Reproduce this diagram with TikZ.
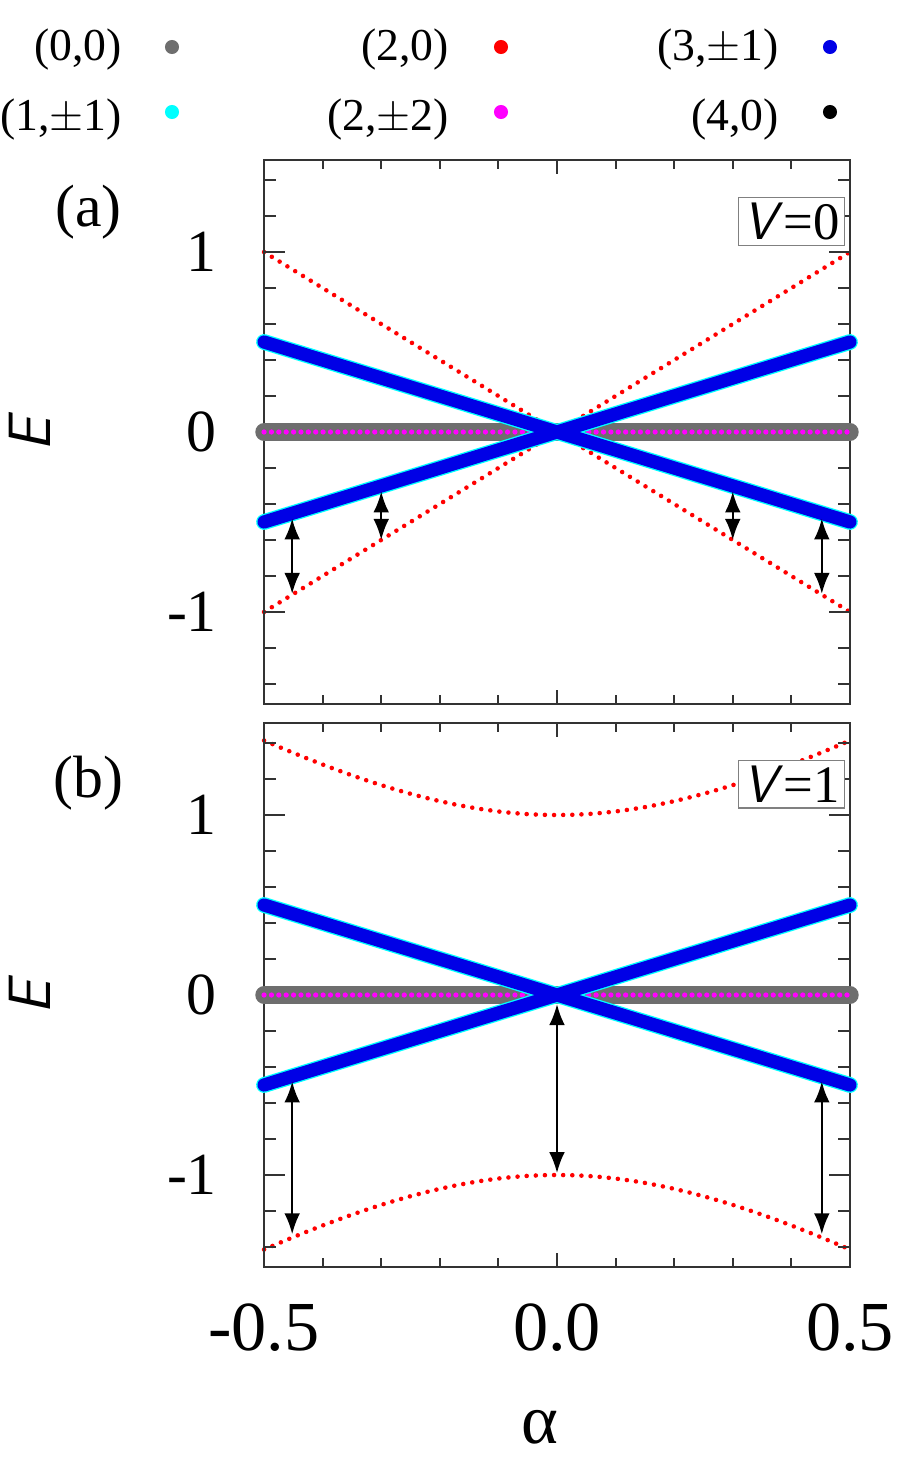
\documentclass[tikz,border=0pt]{standalone}
\usepackage{fontspec}
\setmainfont{Liberation Serif}
\usepackage{tikz}
\usetikzlibrary{arrows.meta}

\definecolor{pcyan}{RGB}{0,255,255}
\definecolor{pmag}{RGB}{255,0,255}
\definecolor{pred}{RGB}{255,0,0}
\definecolor{pblue}{RGB}{0,0,230}
\definecolor{pgray}{RGB}{110,110,110}

\tikzset{
  lbl/.style={font=\fontsize{26}{28}\selectfont},
  ticklbl/.style={font=\fontsize{34}{36}\selectfont},
  boxlbl/.style={font=\fontsize{30}{32}\selectfont},
  frame/.style={line width=1.2pt, black!80},
  redband/.style={pred, line width=2.6pt, dash pattern=on 0pt off 5.2pt, line cap=round},
  grayband/.style={pgray, line width=10pt, line cap=round},
  magband/.style={pmag, line width=3pt, dash pattern=on 0pt off 4.2pt, line cap=round},
  cyanband/.style={pcyan, line width=9pt, line cap=round},
  blueband/.style={pblue, line width=7.5pt, line cap=round},
  gap/.style={{Latex[length=12pt,width=9pt]}-{Latex[length=12pt,width=9pt]}, line width=1.4pt},
  dot/.style={circle, fill=#1, inner sep=0pt, minimum size=8pt}
}

\newcommand{\panelaxes}{%
  \draw[frame] (-0.5,-1.513) rectangle (0.5,1.513);
  \foreach \t in {-0.4,-0.3,-0.2,-0.1,0.1,0.2,0.3,0.4}
    {\draw[frame] (\t,-1.513) -- ++(0,0.05) (\t,1.513) -- ++(0,-0.05);}
  \foreach \t in {-0.5,0,0.5}
    {\draw[frame] (\t,-1.513) -- ++(0,0.08) (\t,1.513) -- ++(0,-0.08);}
  \foreach \e in {-1.4,-1.2,-0.8,-0.6,-0.4,-0.2,0.2,0.4,0.6,0.8,1.2,1.4}
    {\draw[frame] (-0.5,\e) -- ++(0.02,0) (0.5,\e) -- ++(-0.02,0);}
  \foreach \e in {-1,0,1}
    {\draw[frame] (-0.5,\e) -- ++(0.035,0) (0.5,\e) -- ++(-0.035,0);}
  \node[ticklbl, anchor=east] (ytop) at (-0.57,1) {1};
  \node[ticklbl, anchor=east] (ymid) at (-0.57,0) {0};
  \node[ticklbl, anchor=east] (ybot) at (-0.57,-1) {-1};
  \node[ticklbl, rotate=90] (ylab) at (-0.9,0) {\textit{\sffamily E}};
  \draw[grayband] (-0.5,0) -- (0.5,0);
  \draw[magband] (-0.5,0) -- (0.5,0);
  \draw[cyanband] (-0.5,0.5) -- (0.5,-0.5) (-0.5,-0.5) -- (0.5,0.5);
  \draw[blueband] (-0.5,0.5) -- (0.5,-0.5) (-0.5,-0.5) -- (0.5,0.5);
}

\begin{document}
\begin{tikzpicture}[x=0.02cm, y=-0.02cm]
\useasboundingbox (0,0) rectangle (900,1463);

% legend
\node[lbl, anchor=east] (l00) at (128,50) {(0,0)};
\node[dot=pgray] (d00) at (172,47) {};
\node[lbl, anchor=east] (l11) at (128,120) {(1,$\pm$1)};
\node[dot=pcyan] (d11) at (172,112) {};
\node[lbl, anchor=east] (l20) at (455,50) {(2,0)};
\node[dot=pred] (d20) at (501,47) {};
\node[lbl, anchor=east] (l22) at (455,120) {(2,$\pm$2)};
\node[dot=pmag] (d22) at (501,112) {};
\node[lbl, anchor=east] (l31) at (785,50) {(3,$\pm$1)};
\node[dot=pblue] (d31) at (830,47) {};
\node[lbl, anchor=east] (l40) at (785,120) {(4,0)};
\node[dot=black] (d40) at (830,112) {};

% panel (a)
\begin{scope}[shift={(557,432)}, x=11.72cm, y=3.6cm]
  \draw[redband] plot[domain=-0.5:0.5, samples=41] (\x,{2*\x});
  \draw[redband] plot[domain=-0.5:0.5, samples=41] (\x,{-2*\x});
  \panelaxes
  \coordinate (a1t) at (-0.452,-0.48); \coordinate (a1b) at (-0.452,-0.9);
  \coordinate (a2t) at (-0.30,-0.33);  \coordinate (a2b) at (-0.30,-0.60);
  \coordinate (a3t) at (0.30,-0.33);   \coordinate (a3b) at (0.30,-0.60);
  \coordinate (a4t) at (0.452,-0.48);  \coordinate (a4b) at (0.452,-0.9);
  \draw[gap] (a1t) -- (a1b);
  \draw[gap] (a2t) -- (a2b);
  \draw[gap] (a3t) -- (a3b);
  \draw[gap] (a4t) -- (a4b);
  \node[ticklbl] (tagA) at (-0.8,1.22) {(a)};
  \node[boxlbl, draw=black!50, fill=white, line width=0.6pt, inner sep=3pt] (vA) at (0.4,1.17) {\textit{\sffamily V}=0};
\end{scope}

% panel (b)
\begin{scope}[shift={(557,995)}, x=11.72cm, y=3.6cm]
  \draw[redband] plot[domain=-0.5:0.5, samples=41] (\x,{sqrt(1+4*\x*\x)});
  \draw[redband] plot[domain=-0.5:0.5, samples=41] (\x,{-sqrt(1+4*\x*\x)});
  \panelaxes
  \coordinate (b1t) at (-0.452,-0.48); \coordinate (b1b) at (-0.452,-1.33);
  \coordinate (b2t) at (0,-0.05);      \coordinate (b2b) at (0,-0.99);
  \coordinate (b3t) at (0.452,-0.48);  \coordinate (b3b) at (0.452,-1.33);
  \draw[gap] (b1t) -- (b1b);
  \draw[gap] (b2t) -- (b2b);
  \draw[gap] (b3t) -- (b3b);
  \node[ticklbl] (tagB) at (-0.8,1.18) {(b)};
  \node[boxlbl, draw=black!50, fill=white, line width=0.6pt, inner sep=3pt] (vB) at (0.4,1.17) {\textit{\sffamily V}=1};
  \node[ticklbl, font=\fontsize{40}{42}\selectfont] (xm) at (-0.5,-1.85) {-0.5};
  \node[ticklbl, font=\fontsize{40}{42}\selectfont] (x0) at (0,-1.85) {0.0};
  \node[ticklbl, font=\fontsize{40}{42}\selectfont] (xp) at (0.5,-1.85) {0.5};
  \node[ticklbl, font=\fontsize{40}{42}\selectfont] (xlab) at (-0.03,-2.4) {α};
\end{scope}
\end{tikzpicture}
\end{document}
